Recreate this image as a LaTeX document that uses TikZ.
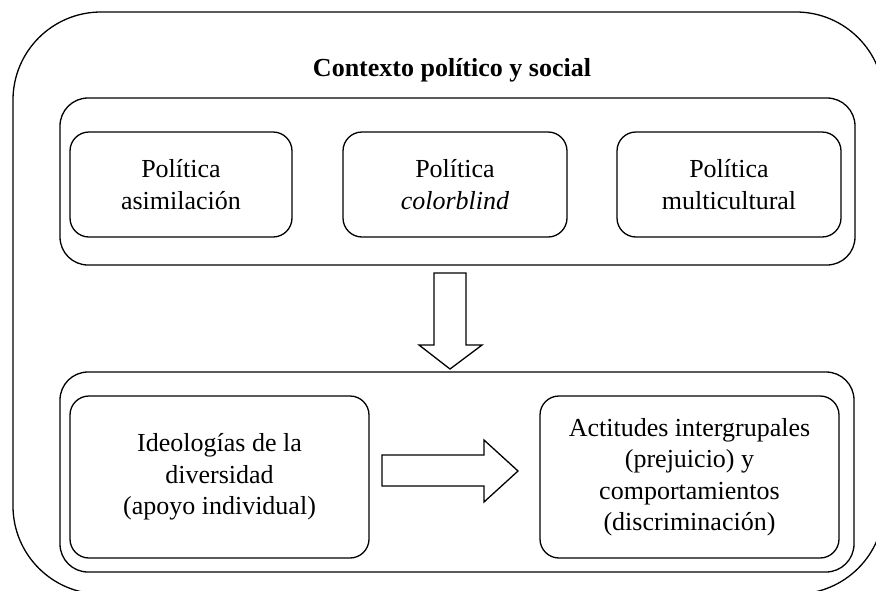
\documentclass[tikz,border=0pt]{standalone}
\usepackage{fontspec}
\setmainfont{Liberation Serif}
\begin{document}
\begin{tikzpicture}[x=1pt,y=-1pt, line width=1.3pt,
  txt/.style={font=\fontsize{26}{31.5}\selectfont},
  panel/.style={draw, rounded corners=28pt, inner sep=0pt},
  box/.style={draw, rounded corners=19pt, align=center, inner sep=0pt, txt},
  blockarrow/.style={draw, fill=white, line join=miter}]
\useasboundingbox (0,0) rectangle (876,590);
\clip (0,0) rectangle (876,590);
% outer frame (runs past the picture's right and bottom edges)
\node[draw, rounded corners=88pt, inner sep=0pt, minimum width=871pt, minimum height=582pt] (outer) at (448.5,303) {};
\node[font=\fontsize{26}{31.5}\selectfont\bfseries] (title) at (452,70) {Contexto político y social};
% top panel
\node[panel, minimum width=795pt, minimum height=167pt] (toppanel) at (457.5,181.5) {};
\node[box, minimum width=222pt, minimum height=105pt] (asim) at (181,184.5) {Política\\asimilación};
\node[box, minimum width=224pt, minimum height=105pt] (color) at (455,184.5) {Política\\\textit{colorblind}};
\node[box, minimum width=224pt, minimum height=105pt] (multi) at (729,184.5) {Política\\multicultural};
% bottom panel
\node[panel, minimum width=794pt, minimum height=200pt] (botpanel) at (457,472) {};
\node[box, minimum width=299pt, minimum height=162pt] (ideo) at (219.5,477) {Ideologías de la\\diversidad\\(apoyo individual)};
\node[box, minimum width=299pt, minimum height=162pt] (acti) at (689.5,477) {Actitudes intergrupales\\(prejuicio) y\\comportamientos\\(discriminación)};
% block arrows
\draw[blockarrow] (434,273) -- (466,273) -- (466,345) -- (482,345) -- (450,369) -- (419,345) -- (434,345) -- cycle;
\draw[blockarrow] (382,455) -- (484,455) -- (484,440) -- (518,471) -- (484,502) -- (484,486) -- (382,486) -- cycle;
\end{tikzpicture}
\end{document}
